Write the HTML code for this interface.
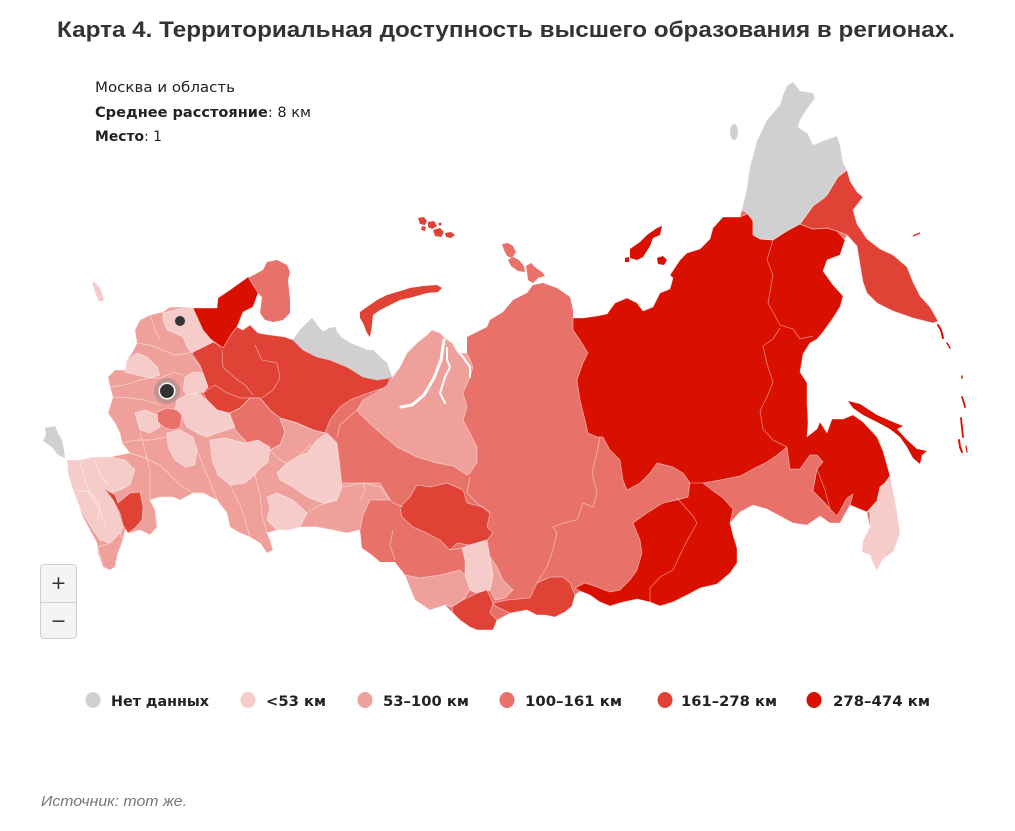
<!DOCTYPE html>
<html><head><meta charset="utf-8">
<style>
html,body{margin:0;padding:0;background:#fff;}
body{width:1015px;height:831px;position:relative;overflow:hidden;}
svg{position:absolute;left:0;top:0;}
.r{stroke:#fff;stroke-opacity:.55;stroke-width:.7;stroke-linejoin:round;}
.n{stroke:none;}
.nd{fill:#d0d0d0}.c1{fill:#f6cccb}.c2{fill:#f0a09a}.c3{fill:#e8716a}.c4{fill:#e04236}.c5{fill:#d90f00}
.bl{fill:none;stroke:#fff;stroke-opacity:.55;stroke-width:.7;}
#zc{position:absolute;left:40px;top:564px;width:37px;height:75px;border:1px solid #d0d0d0;border-radius:4px;background:#f4f4f4;box-sizing:border-box;}
#zc div{height:37px;line-height:37px;text-align:center;font-family:"DejaVu Sans",sans-serif;font-size:19px;color:#333;}
#zc .t{border-bottom:1px solid #d0d0d0;}
</style></head><body>
<svg width="1015" height="831" viewBox="0 0 1015 831" xmlns="http://www.w3.org/2000/svg">
<text x="57" y="37" font-family="Liberation Sans, Arial, sans-serif" font-weight="bold" font-size="22" fill="#333" textLength="898" lengthAdjust="spacingAndGlyphs">Карта 4. Территориальная доступность высшего образования в регионах.</text>

<text x="95" y="92" font-family="DejaVu Sans, sans-serif" font-size="14" fill="#222" textLength="140" lengthAdjust="spacingAndGlyphs">Москва и область</text>
<text x="95" y="117" font-family="DejaVu Sans, sans-serif" font-size="14" fill="#222" textLength="216" lengthAdjust="spacingAndGlyphs"><tspan font-weight="bold">Среднее расстояние</tspan>: 8 км</text>
<text x="95" y="141" font-family="DejaVu Sans, sans-serif" font-size="14" fill="#222" textLength="67" lengthAdjust="spacingAndGlyphs"><tspan font-weight="bold">Место</tspan>: 1</text>

<!-- base silhouette -->
<polygon class="c3 n" points="135,330 140,320 150,315 163,312 170,307 187,307 193,308 217,308 218,298 230,290 248,277 250,277 263,270 267,262 277,260 287,265 290,272 288,280 290,300 290,313 283,320 273,322 265,320 260,313 262,297 258,293 253,307 243,312 237,327 243,330 250,325 258,333 270,335 285,337 293,340 300,330 307,323 312,318 317,325 323,332 330,328 335,327 337,332 342,338 350,343 360,347 367,350 373,350 380,357 387,363 392,377 388,383 400,367 407,353 417,343 427,335 432,330 440,333 445,338 452,343 458,353 467,353 467,337 487,327 490,320 503,312 513,300 527,293 533,285 543,283 557,288 570,297 573,310 573,318 583,318 597,316 607,314 615,303 627,298 637,303 643,311 653,307 660,293 670,289 673,278 670,275 680,260 687,253 700,249 710,239 713,228 723,217 740,217 742,210 747,188 750,167 757,141 767,120 780,105 783,95 787,86 793,82 800,91 813,93 815,98 807,109 800,120 798,127 808,134 813,145 823,141 837,136 840,145 843,163 847,170 850,181 857,192 863,197 853,210 857,224 867,239 880,249 893,255 907,267 913,282 920,296 930,307 938,321 933,323 913,318 893,311 877,303 867,293 863,282 860,264 857,246 847,235 840,245 840,255 827,260 823,271 833,285 843,296 840,307 833,318 823,332 817,339 810,343 803,354 800,372 807,383 807,404 808,422 807,437 817,429 820,422 827,433 832,419 843,419 853,415 863,422 877,437 883,451 890,476 893,491 897,512 900,534 893,552 883,559 877,570 873,563 870,555 862,552 863,541 870,527 867,512 850,505 840,523 830,523 820,516 807,525 793,523 780,516 767,509 753,505 740,512 730,523 733,535 737,548 737,563 730,573 717,584 700,588 687,595 673,602 660,606 650,602 637,599 623,602 610,606 600,602 590,595 580,591 575,595 572,606 565,612 555,617 545,615 537,615 527,610 510,613 497,620 493,630 477,630 470,627 460,620 453,613 445,605 430,610 415,600 410,588 405,575 395,562 380,562 372,555 362,548 360,530 347,533 333,530 317,527 300,527 290,530 277,530 267,533 270,540 273,550 267,553 260,543 250,537 240,533 230,527 227,513 217,500 203,493 193,493 180,500 173,497 160,497 150,500 155,510 157,527 150,535 140,530 130,533 125,530 123,540 118,553 115,567 110,570 103,567 98,553 97,543 90,530 83,517 78,503 73,490 68,473 67,460 80,460 93,457 110,457 130,453 122,443 120,433 115,423 108,413 113,397 110,387 108,377 115,370 125,370 127,360 132,353 137,343"/>

<!-- west c2 base -->
<polygon class="c2 r" points="135,330 140,320 150,315 163,312 170,307 193,308 212,340 190,353 200,367 207,387 200,393 213,410 230,413 240,408 250,398 260,398 270,410 280,418 297,423 313,430 325,433 333,445 337,470 340,483 363,483 380,483 390,500 370,500 363,515 360,530 347,533 333,530 317,527 300,527 290,530 277,530 267,533 270,540 273,550 267,553 260,543 250,537 240,533 230,527 227,513 217,500 203,493 193,493 180,500 173,497 160,497 150,500 155,510 157,527 150,535 140,530 130,533 125,530 123,540 118,553 115,567 110,570 103,567 98,553 97,543 90,530 83,517 78,503 73,490 68,473 67,460 80,460 93,457 110,457 130,453 122,443 120,433 115,423 108,413 113,397 110,387 108,377 115,370 125,370 127,360 132,353 137,343"/>
<!-- west internal lines -->
<polyline class="bl" points="137,343 150,345 163,350 175,355 190,353"/>
<polyline class="bl" points="110,387 125,385 140,380 150,378 160,378 175,372 183,375"/>
<polyline class="bl" points="113,397 130,398 145,400 160,405"/>
<polyline class="bl" points="122,443 135,440 150,440 167,437"/>
<polyline class="bl" points="130,453 145,458 160,465 170,475 180,485 193,493"/>
<polyline class="bl" points="140,433 145,450 150,470 150,500"/>
<polyline class="bl" points="197,450 205,470 217,500"/>
<polyline class="bl" points="230,485 240,505 245,520 250,537"/>
<polyline class="bl" points="255,475 260,495 262,515 267,533"/>
<polyline class="bl" points="307,513 320,505 337,500"/>
<polyline class="bl" points="360,500 365,490 363,483"/>
<polyline class="bl" points="150,315 155,330 160,340"/>

<!-- big c4 -->
<polygon class="c4 r" points="190,345 197,350 213,342 223,348 232,333 237,327 243,330 250,325 258,333 270,335 285,337 293,340 303,350 317,357 330,360 347,367 363,377 377,380 390,378 387,387 377,390 363,395 350,400 340,407 330,420 325,433 313,430 297,423 280,418 270,410 260,398 250,398 240,408 230,413 217,410 207,400 203,393 208,387 203,373 200,365 193,355"/>
<polyline class="bl" points="222,350 223,367 235,378 245,385 253,395"/>
<polyline class="bl" points="255,345 262,360 277,363 280,378 273,390 262,398"/>
<polyline class="bl" points="203,393 215,385 225,392 240,398 250,398"/>
<!-- c5 murmansk-like -->
<polygon class="c5 r" points="193,308 217,308 218,298 230,290 248,277 258,293 253,307 243,312 237,327 232,333 223,348 212,340 197,332"/>
<!-- c3 kirov -->
<polygon class="c3 r" points="230,413 240,408 250,398 260,398 270,410 280,418 285,432 280,445 270,450 262,457 252,450 245,440 237,432 232,425"/>
<!-- c2 perm -->
<polygon class="c2 r" points="280,418 297,423 313,430 325,433 330,440 320,450 310,445 300,455 290,465 280,460 270,450 280,445 285,432"/>
<!-- c1 regions west -->
<polygon class="c1 r" points="163,313 187,307 193,308 203,330 213,342 197,350 192,353 187,347 183,337 175,333 167,330 163,320"/>
<polygon class="c1 r" points="127,360 137,353 147,357 157,367 160,375 150,378 137,375 125,372"/>
<polygon class="c1 r" points="185,377 193,372 203,373 208,387 203,392 197,393 188,397 183,390"/>
<polygon class="c1 r" points="177,400 187,395 197,393 207,400 217,410 230,415 235,427 227,430 217,433 207,437 197,433 187,427 182,417 175,410"/>
<polygon class="c1 r" points="135,413 145,410 157,415 160,427 150,433 140,430"/>
<polygon class="c1 r" points="167,433 180,430 193,437 197,450 195,465 185,467 175,460 168,447"/>
<polygon class="c1 r" points="210,440 225,438 245,443 258,440 270,447 268,462 258,470 255,475 245,483 230,485 218,475 212,460"/>
<polygon class="c1 r" points="307,453 317,440 327,433 337,443 340,467 342,487 337,500 323,503 307,497 293,487 280,480 277,473 287,463 297,457"/>
<polygon class="c1 r" points="267,497 277,493 293,500 307,513 300,527 290,530 277,530 267,520 270,507"/>
<polygon class="c1 r" points="67,460 80,460 93,457 110,457 125,460 135,470 130,485 120,490 110,493 113,500 118,513 123,527 120,535 110,543 100,540 93,530 85,517 78,503 73,490 68,473"/>
<polyline class="bl" points="80,462 85,480 90,495 100,510 105,525"/>
<polyline class="bl" points="95,460 100,475 108,485"/>
<polyline class="bl" points="75,490 90,492 100,505 98,520"/>
<!-- c3 kaluga -->
<polygon class="c3 r" points="157,412 167,408 177,410 182,415 180,428 173,430 165,428 158,422"/>
<!-- c4 kalmykia-like -->
<polygon class="c4 r" points="103,488 115,495 118,503 130,493 140,492 143,507 142,520 135,528 128,533 123,525 120,513 113,500 107,492"/>
<!-- c2 caucasus tip -->
<polygon class="c2 r" points="98,547 110,543 120,533 123,540 118,553 115,567 110,570 103,567"/>

<!-- gray band -->
<polygon class="nd n" points="293,340 300,330 307,323 312,318 317,325 323,332 330,328 335,327 337,332 342,338 350,343 360,347 367,350 373,350 380,357 387,363 392,377 377,380 363,377 347,367 330,360 317,357 303,350"/>
<!-- Novaya Zemlya -->
<polygon class="c4 n" points="360,312 367,307 377,300 387,295 397,292 410,288 423,286 437,285 442,288 438,292 427,293 413,297 400,300 390,305 380,310 373,315 372,325 370,337 367,333 363,323 360,318"/>
<!-- Kaliningrad-like gray -->
<polygon class="nd n" points="45,428 55,426 58,433 62,440 64,450 65,458 58,455 52,447 43,441 46,434"/>
<!-- small island -->
<polygon class="c1 n" points="92,282 96,283 101,290 104,300 99,302 95,292"/>
<!-- Franz Josef -->
<g class="c4">
<polygon points="418,218 424,217 427,221 425,225 420,224"/>
<polygon points="428,222 434,221 437,226 432,229 428,227"/>
<polygon points="433,230 440,228 444,232 441,237 435,236"/>
<polygon points="445,233 451,232 455,235 451,238 446,237"/>
<polygon points="422,226 426,227 425,231 421,230"/>
<circle cx="440" cy="224" r="1.5"/>
</g>
<!-- Severnaya Zemlya -->
<g class="c3">
<polygon points="502,244 508,243 513,246 516,252 512,258 507,256 504,250"/>
<polygon points="508,260 513,257 519,260 524,266 525,272 518,271 511,266"/>
<polygon points="526,266 531,263 536,268 542,272 545,276 538,278 533,283 528,280 527,272"/>
</g>

<!-- Siberia -->
<polygon class="c2 r" points="357,410 363,400 377,392 388,385 400,367 407,353 417,343 427,335 432,330 440,333 445,338 452,343 458,353 467,353 473,367 470,377 463,393 467,407 463,420 470,433 477,447 477,462 470,473 467,475 453,466 437,463 417,457 397,447 377,430 360,414"/>
<polyline fill="none" stroke="#fff" stroke-width="3" stroke-linecap="round" points="444,340 441,360 434,378 424,395 412,405 401,407"/>
<polyline fill="none" stroke="#fff" stroke-width="2" stroke-linecap="round" points="447,348 447,360 450,367 445,377 442,387 440,393 445,403"/>
<polyline fill="none" stroke="#fff" stroke-width="2" stroke-linecap="round" points="457,350 463,357 470,367 470,377"/>
<polygon class="c4 r" points="417,485 430,487 447,483 463,490 467,503 483,507 490,513 487,527 493,533 487,540 470,545 457,543 450,550 440,540 427,533 413,527 402,517 400,507 410,497"/>
<polygon class="c1 r" points="462,548 470,545 487,540 490,557 493,575 490,590 480,595 470,590 465,575 465,560"/>
<polygon class="c2 r" points="490,557 497,567 503,580 513,590 505,598 495,600 490,590 493,575"/>
<polygon class="c2 r" points="405,575 420,578 440,575 460,570 465,575 470,590 463,600 452,607 445,605 430,610 415,600 410,588"/>
<polygon class="c4 r" points="452,607 463,600 477,593 487,590 493,603 490,613 497,620 493,630 477,630 470,627 460,620 453,613"/>
<polygon class="c4 r" points="493,603 507,600 530,598 537,583 550,577 563,577 570,583 575,595 572,606 565,612 555,617 545,615 537,615 527,610 510,613 497,607"/>
<polyline class="bl" points="337,437 340,425 357,410"/>
<polyline class="bl" points="343,487 363,483 380,487 393,503 403,507"/>
<polyline class="bl" points="393,530 390,545 395,560"/>
<polyline class="bl" points="450,550 462,548"/>
<polyline class="bl" points="470,477 467,493 477,503 490,513"/>
<polyline class="bl" points="600,437 597,453 592,473 597,493 593,507 583,503 577,520 563,523 553,527 557,533 553,550 547,567 537,583"/>

<!-- East c5 -->
<polygon class="c5 r" points="573,318 583,318 597,316 607,314 615,303 627,298 637,303 643,311 653,307 660,293 670,289 673,278 670,275 680,260 687,253 700,249 710,239 713,228 723,217 740,217 752,212 753,221 753,235 760,239 773,240 787,231 800,224 813,229 827,228 837,231 845,240 840,255 827,260 823,271 833,285 843,296 840,307 833,318 823,332 817,339 810,343 803,354 800,372 807,383 807,404 808,422 807,437 817,429 820,422 827,433 832,419 843,419 853,415 863,422 877,437 883,451 890,476 885,483 880,487 877,501 867,512 850,505 840,523 830,523 820,516 807,525 793,523 780,516 767,509 753,505 740,512 730,523 733,535 737,548 737,563 730,573 717,584 700,588 687,595 673,602 660,606 650,602 637,599 623,602 610,606 600,602 590,595 580,591 575,588 585,583 597,587 610,592 620,590 630,580 637,570 642,553 640,540 633,523 647,513 663,503 677,500 688,497 690,483 683,473 673,467 657,463 650,473 640,483 627,490 623,480 620,460 610,450 603,437 597,437 588,433 585,420 580,400 577,380 583,363 588,353 580,340 573,330"/>
<polyline class="bl" points="773,240 767,260 773,275 768,303 780,325 793,329 800,339 813,336"/>
<polyline class="bl" points="780,328 773,339 763,346 767,364 773,382 767,397 760,411 763,429 773,440 787,447"/>
<polyline class="bl" points="677,498 693,516 697,523 687,541 680,555 673,570 660,577 650,588 650,602"/>
<polyline class="bl" points="690,483 703,483"/>
<!-- Amur c3 -->
<polygon class="c3 r" points="703,483 720,480 740,476 753,469 767,462 777,455 787,447 790,469 800,469 810,455 817,455 823,462 817,469 813,491 823,501 830,509 837,516 847,498 853,494 850,505 840,523 830,523 820,516 807,525 793,523 780,516 767,509 753,505 740,512 730,523 733,509 723,498 713,491"/>
<polyline class="bl" points="817,469 825,490 830,509"/>
<!-- Primorye c1 -->
<polygon class="c1 r" points="880,487 885,483 890,476 893,491 897,512 900,534 893,552 883,559 877,570 873,563 870,555 862,552 863,541 870,527 870,512 867,512 877,501"/>
<!-- Kamchatka c4 -->
<polygon class="c4 r" points="800,224 813,206 827,195 838,177 847,170 850,181 857,192 863,197 853,210 857,224 867,239 880,249 893,255 907,267 913,282 920,296 930,307 938,321 933,323 913,318 893,311 877,303 867,293 863,282 860,264 857,246 847,235 837,231 827,228 813,229"/>
<!-- Chukotka gray -->
<polygon class="nd r" points="742,210 747,188 750,167 757,141 767,120 780,105 783,95 787,86 793,82 800,91 813,93 815,98 807,109 800,120 798,127 808,134 813,145 823,141 837,136 840,145 843,163 847,170 838,177 827,195 823,199 813,206 800,224 787,231 773,240 760,239 753,235 753,221 747,213"/>
<ellipse class="nd" cx="734" cy="132" rx="4" ry="8"/>
<!-- Sakhalin -->
<polygon class="c5 n" points="848,401 860,404 877,415 893,422 903,426 897,429 907,440 917,449 927,451 922,455 920,464 913,458 907,447 900,437 890,429 877,422 863,415 853,408"/>
<!-- New Siberian islands -->
<g class="c5">
<polygon points="630,249 640,242 647,235 657,228 662,226 660,235 653,238 650,246 643,257 637,260 630,258"/>
<polygon points="657,258 663,256 667,260 664,265 658,264"/>
<polygon points="625,258 629,257 629,262 625,262"/>
</g>
<!-- Kurils and dashes -->
<g fill="none" stroke="#d90f00" stroke-linecap="round">
<polyline stroke-width="2" points="938,325 941,330 943,338"/>
<polyline stroke-width="1.5" points="947,343 950,348"/>
<polyline stroke-width="1.5" points="962,376 962,378"/>
<polyline stroke-width="1.8" points="962,397 964,403 965,407"/>
<polyline stroke-width="1.8" points="961,418 962,428 963,437"/>
<polyline stroke-width="2" points="959,440 960,447 962,452"/>
<polyline stroke-width="1.2" points="966,446 967,452"/>
</g>
<polyline fill="none" stroke="#e04236" stroke-width="1.5" points="913,236 920,233"/>

<!-- markers -->
<circle cx="180" cy="321" r="5" fill="#333"/>
<circle cx="167" cy="391" r="13" fill="#9a8a8a" fill-opacity="0.55"/>
<circle cx="167" cy="391" r="8.5" fill="#fff"/>
<circle cx="167" cy="391" r="7" fill="#333"/>

<!-- legend -->
<g font-family="DejaVu Sans, sans-serif" font-weight="bold" font-size="14" fill="#222">
<ellipse cx="93" cy="700" rx="7.5" ry="8" fill="#d0d0d0"/>
<text x="111" y="706" textLength="98" lengthAdjust="spacingAndGlyphs">Нет данных</text>
<ellipse cx="248" cy="700" rx="7.5" ry="8" fill="#f6cccb"/>
<text x="266" y="706" textLength="60" lengthAdjust="spacingAndGlyphs">&lt;53 км</text>
<ellipse cx="365" cy="700" rx="7.5" ry="8" fill="#f0a09a"/>
<text x="383" y="706" textLength="86" lengthAdjust="spacingAndGlyphs">53–100 км</text>
<ellipse cx="507" cy="700" rx="7.5" ry="8" fill="#e8716a"/>
<text x="525" y="706" textLength="97" lengthAdjust="spacingAndGlyphs">100–161 км</text>
<ellipse cx="665" cy="700" rx="7.5" ry="8" fill="#e04236"/>
<text x="681" y="706" textLength="96" lengthAdjust="spacingAndGlyphs">161–278 км</text>
<ellipse cx="814" cy="700" rx="7.5" ry="8" fill="#d90f00"/>
<text x="833" y="706" textLength="97" lengthAdjust="spacingAndGlyphs">278–474 км</text>
</g>

<text x="41" y="806" font-family="Liberation Sans, Arial, sans-serif" font-style="italic" font-size="15" fill="#777" textLength="146" lengthAdjust="spacingAndGlyphs">Источник: тот же.</text>
</svg>
<div id="zc"><div class="t">+</div><div>−</div></div>
</body></html>
